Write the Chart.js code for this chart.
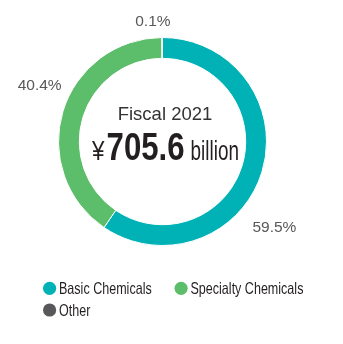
<!DOCTYPE html>
<html>
<head>
<meta charset="utf-8">
<script src="https://cdn.jsdelivr.net/npm/chart.js@4.4.1/dist/chart.umd.min.js"></script>
<style>
  html, body { margin: 0; padding: 0; background: #fff; }
  #wrap { width: 343px; height: 344px; position: relative; }
</style>
</head>
<body>
<div id="wrap"><canvas id="salesChart"></canvas></div>
<script>
// Dados do gráfico
const segments = ["Basic Chemicals", "Specialty Chemicals", "Other"];
const shares = [59.5, 40.4, 0.1];
const shareLabels = ["59.5%", "40.4%", "0.1%"];
const segmentColors = ["#00B2B5", "#5CBD6A", "#58585A"];
const centerTitle = "Fiscal 2021";
const centerYen = "¥";
const centerValue = "705.6";
const centerUnit = "billion";

// onde ficam os rótulos de porcentagem (graus a partir do topo, distância do centro)
const labelPlacement = [
  { angle: 127.5, dist: 141 },
  { angle: 294.5, dist: 135 },
  { angle: -4.6, dist: 120 }
];

const FONT = "'Liberation Sans', Arial, sans-serif";

function drawScaled(ctx, text, x, y, sx) {
  ctx.save();
  ctx.translate(x, y);
  ctx.scale(sx, 1);
  ctx.fillText(text, 0, 0);
  ctx.restore();
  return ctx.measureText(text).width * sx;
}

// Plugin: texto central + rótulos de porcentagem + legenda
const extrasPlugin = {
  id: "extras",
  afterDraw(chart) {
    const ctx = chart.ctx;
    const arcs = chart.getDatasetMeta(0).data;
    if (!arcs.length) return;
    const cx = arcs[0].x, cy = arcs[0].y;

    // porcentagens
    ctx.save();
    ctx.fillStyle = "#58585A";
    ctx.font = "15.5px " + FONT;
    ctx.textAlign = "center";
    ctx.textBaseline = "middle";
    labelPlacement.forEach((p, i) => {
      const a = p.angle * Math.PI / 180;
      ctx.fillText(shareLabels[i], cx + Math.sin(a) * p.dist, cy - Math.cos(a) * p.dist);
    });
    ctx.restore();

    // texto central
    ctx.save();
    ctx.fillStyle = "#333";
    ctx.textBaseline = "alphabetic";
    ctx.textAlign = "center";
    ctx.font = "18.5px " + FONT;
    ctx.fillText(centerTitle, cx + 2.5, cy - 21.5);

    ctx.textAlign = "left";
    ctx.fillStyle = "#231F20";
    const parts = [
      { t: centerYen, f: "28px " + FONT, sx: 0.8, gap: 2 },
      { t: centerValue, f: "bold 38.5px " + FONT, sx: 0.81, gap: 6 },
      { t: centerUnit, f: "27px " + FONT, sx: 0.7, gap: 0 }
    ];
    let total = 0;
    parts.forEach(p => { ctx.font = p.f; p.w = ctx.measureText(p.t).width * p.sx; total += p.w + p.gap; });
    let x = cx + 3 - total / 2;
    const base = cy + 18;
    parts.forEach(p => { ctx.font = p.f; drawScaled(ctx, p.t, x, base, p.sx); x += p.w + p.gap; });
    ctx.restore();

    // legenda
    ctx.save();
    ctx.font = "16.5px " + FONT;
    ctx.textBaseline = "alphabetic";
    const rows = [[0, 1], [2]];
    const colX = [43, 174.5];
    const rowY = [288.3, 310];
    rows.forEach((row, r) => {
      row.forEach((idx, c) => {
        const x0 = colX[c], y0 = rowY[r];
        ctx.beginPath();
        ctx.arc(x0 + 6.6, y0, 6.6, 0, Math.PI * 2);
        ctx.fillStyle = segmentColors[idx];
        ctx.fill();
        ctx.fillStyle = "#231F20";
        drawScaled(ctx, segments[idx], x0 + 16, y0 + 5.8, 0.76);
      });
    });
    ctx.restore();
  }
};

const salesCtx = document.getElementById("salesChart").getContext("2d");
const salesChart = new Chart(salesCtx, {
  type: "doughnut",
  data: {
    labels: segments,
    datasets: [{
      data: shares,
      backgroundColor: segmentColors,
      borderColor: "#fff",
      borderWidth: 1
    }]
  },
  options: {
    responsive: true,
    maintainAspectRatio: false,
    animation: false,
    cutout: "80%",
    layout: { padding: { top: 37, bottom: 98, left: 58, right: 76 } },
    plugins: {
      legend: { display: false },
      tooltip: { enabled: false }
    }
  },
  plugins: [extrasPlugin]
});
</script>
</body>
</html>
